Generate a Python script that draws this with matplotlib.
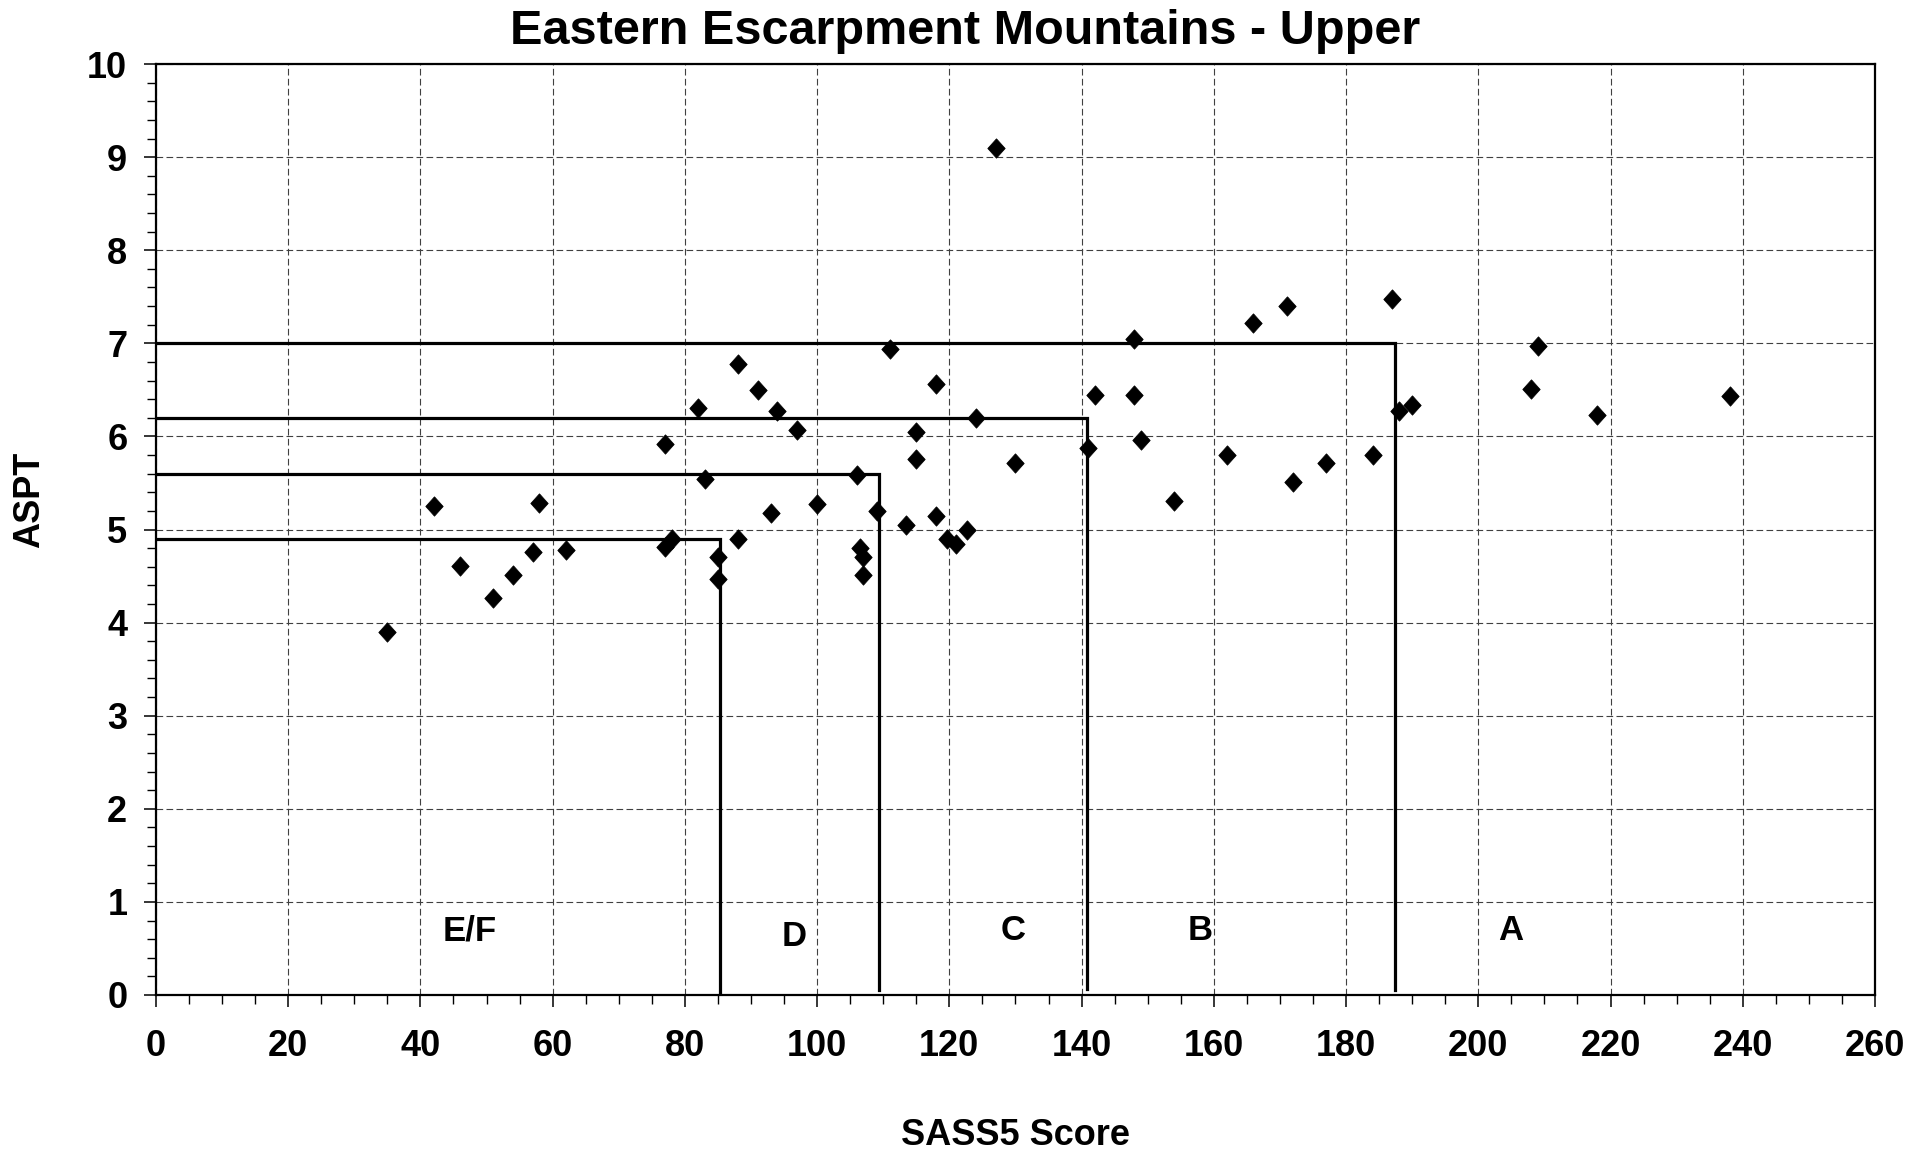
import matplotlib.pyplot as plt
import numpy as np

# SASS5 score vs ASPT for each site
sass5 = [35, 42, 46, 51, 54, 57, 58, 62, 77, 77, 78, 82, 83, 85, 85, 88, 88, 91,
         93, 94, 97, 100, 106, 106.5, 107, 107, 109, 111, 113.5, 115, 115, 118,
         118, 119.7, 121, 122.7, 124, 127, 130, 141, 142, 148, 148, 149, 154,
         162, 166, 171, 172, 177, 184, 187, 188, 190, 208, 209, 218, 238]
aspt = [3.9, 5.25, 4.61, 4.26, 4.51, 4.76, 5.28, 4.78, 5.92, 4.81, 4.9, 6.31,
        5.54, 4.71, 4.47, 4.9, 6.78, 6.5, 5.18, 6.27, 6.07, 5.27, 5.59, 4.8,
        4.7, 4.51, 5.2, 6.94, 5.05, 6.05, 5.76, 6.56, 5.14, 4.9, 4.84, 5.0,
        6.2, 9.1, 5.71, 5.875, 6.45, 6.44, 7.05, 5.96, 5.31, 5.8, 7.22, 7.4,
        5.51, 5.71, 5.8, 7.48, 6.27, 6.34, 6.51, 6.97, 6.23, 6.43]

# class boundaries (SASS5 cut, ASPT cut, where the vertical stops)
bound_sass = [85.3, 109.4, 140.8, 187.4]
bound_aspt = [4.9, 5.6, 6.2, 7.0]
bound_end = [0.0, 0.05, 0.06, 0.05]

classes = ["E/F", "D", "C", "B", "A"]
class_x = [47.5, 96.6, 129.6, 158.0, 204.9]
class_y = [0.59, 0.53, 0.59, 0.59, 0.59]

plt.rcParams['font.family'] = ['Liberation Sans', 'DejaVu Sans']
plt.rcParams['font.weight'] = 'bold'

fig = plt.figure(figsize=(19.3, 11.54), dpi=100)
ax = fig.add_axes([0.0808, 0.1378, 0.8907, 0.8067])

ax.grid(True, which='major', color='#404040', lw=0.8, linestyle=(0, (6, 3)), zorder=0)
ax.set_axisbelow(True)

for xb, yb, ye in zip(bound_sass, bound_aspt, bound_end):
    ax.plot([0, xb, xb], [yb, yb, ye], color='black', lw=2.3,
            solid_joinstyle='miter', zorder=3)

diamond = [(0, 1), (0.9, 0), (0, -1), (-0.9, 0), (0, 1)]
ax.plot(sass5, aspt, linestyle='none', marker=diamond, markersize=14,
        color='black', markeredgewidth=0.5, zorder=4)

for lab, x, y in zip(classes, class_x, class_y):
    ax.text(x, y, lab, ha='center', va='baseline', fontsize=25, fontweight='bold')

ax.set_xlim(0, 260)
ax.set_ylim(0, 10)
ax.set_xticks(np.arange(0, 261, 20))
ax.set_xticks(np.arange(0, 261, 5), minor=True)
ax.set_yticks(np.arange(0, 11, 1))
ax.set_yticks(np.arange(0, 10.01, 0.2), minor=True)

for s in ax.spines.values():
    s.set_linewidth(1.6)
    s.set_color('black')

ax.tick_params(axis='both', which='major', direction='out', length=8.6, width=1.1,
               labelsize=26, color='black')
ax.tick_params(axis='both', which='minor', direction='out', length=6.5, width=1.0,
               color='black')
ax.tick_params(axis='x', which='major', pad=16)
ax.tick_params(axis='y', which='major', pad=12)
for t in ax.get_xticklabels() + ax.get_yticklabels():
    t.set_fontweight('bold')

fig.text(0.5, 1 - 44 / 1154, "Eastern Escarpment Mountains - Upper", ha='center',
         va='baseline', fontsize=35, fontweight='bold')
fig.text(0.0155, 0.5666, "ASPT", rotation=90, ha='center', va='center',
         fontsize=26, fontweight='bold')
fig.text(0.526, 1 - 1145 / 1154, "SASS5 Score", ha='center', va='baseline',
         fontsize=26, fontweight='bold')

fig.savefig("out.png", dpi=100)
